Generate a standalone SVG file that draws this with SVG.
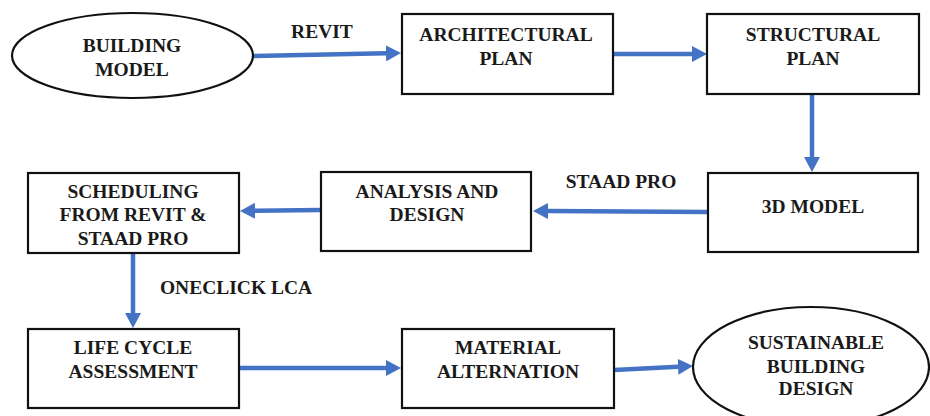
<svg xmlns="http://www.w3.org/2000/svg" width="930" height="416" viewBox="0 0 930 416" font-family="Liberation Serif, Times New Roman, DejaVu Serif, serif">
<style>
.box{fill:#fff;stroke:#111;stroke-width:2.2}
.t{font-weight:bold;font-size:19.5px;fill:#1a1a1a;text-anchor:middle}
.c{fill:none;stroke:#4472C4;stroke-width:4.5;marker-end:url(#ah)}
</style>
<defs>
<marker id="ah" markerUnits="userSpaceOnUse" viewBox="0 -8 15 16" refX="0" refY="0" markerWidth="15" markerHeight="16" orient="auto">
<path d="M0,-8 L15,0 L0,8 z" fill="#4472C4"/>
</marker>
</defs>
<g id="connectors">
<line class="c" x1="253" y1="56" x2="386" y2="53.3"/>
<line class="c" x1="613" y1="54" x2="692" y2="54"/>
<line class="c" x1="812" y1="94" x2="812" y2="157"/>
<line class="c" x1="708" y1="212" x2="548" y2="211.1"/>
<line class="c" x1="321" y1="210" x2="255" y2="210.8"/>
<line class="c" x1="133" y1="253" x2="133" y2="313"/>
<line class="c" x1="239" y1="368" x2="386" y2="368"/>
<line class="c" x1="614" y1="370" x2="678" y2="366.8"/>
<text class="t" x="322" y="38">REVIT</text>
<text class="t" x="621" y="188">STAAD PRO</text>
<text class="t" x="236" y="294">ONECLICK LCA</text>
</g>
<g id="building-model">
<ellipse class="box" cx="132.5" cy="55.5" rx="120.5" ry="42.5"/>
<text class="t" x="132" y="51.5">BUILDING</text>
<text class="t" x="132" y="75.5">MODEL</text>
</g>
<g id="architectural-plan">
<rect class="box" x="402" y="14" width="211" height="80"/>
<text class="t" x="506" y="41">ARCHITECTURAL</text>
<text class="t" x="506" y="65">PLAN</text>
</g>
<g id="structural-plan">
<rect class="box" x="707" y="14" width="212" height="80"/>
<text class="t" x="813" y="41">STRUCTURAL</text>
<text class="t" x="813" y="65">PLAN</text>
</g>
<g id="model-3d">
<rect class="box" x="708" y="173" width="210" height="79"/>
<text class="t" x="813" y="213">3D MODEL</text>
</g>
<g id="analysis-design">
<rect class="box" x="321" y="172" width="210" height="79"/>
<text class="t" x="427" y="198">ANALYSIS AND</text>
<text class="t" x="427" y="221">DESIGN</text>
</g>
<g id="scheduling">
<rect class="box" x="28" y="173" width="211" height="80"/>
<text class="t" x="133" y="198">SCHEDULING</text>
<text class="t" x="133" y="221">FROM REVIT &amp;</text>
<text class="t" x="133" y="245">STAAD PRO</text>
</g>
<g id="life-cycle-assessment">
<rect class="box" x="28" y="329" width="211" height="79"/>
<text class="t" x="133" y="354">LIFE CYCLE</text>
<text class="t" x="133" y="378">ASSESSMENT</text>
</g>
<g id="material-alternation">
<rect class="box" x="402" y="329" width="212" height="79"/>
<text class="t" x="508" y="354">MATERIAL</text>
<text class="t" x="508" y="378">ALTERNATION</text>
</g>
<g id="sustainable-building-design">
<ellipse class="box" cx="811" cy="367" rx="118" ry="60"/>
<text class="t" x="816" y="349">SUSTAINABLE</text>
<text class="t" x="816" y="373">BUILDING</text>
<text class="t" x="816" y="395">DESIGN</text>
</g>
</svg>
